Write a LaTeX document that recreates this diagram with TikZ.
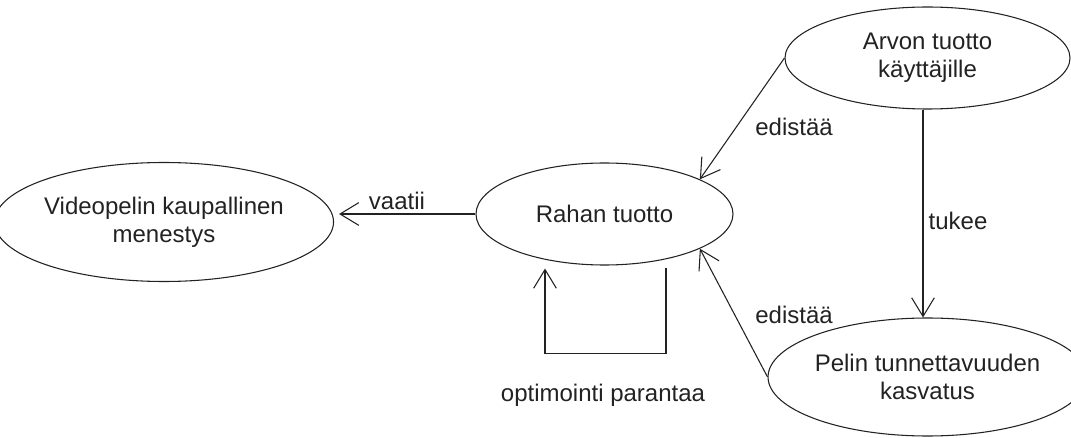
\documentclass[tikz,border=0pt]{standalone}
\usepackage{fontspec}
\setmainfont{Liberation Sans}
\usetikzlibrary{arrows.meta,calc,shapes.geometric}
\definecolor{ink}{HTML}{222222}
\tikzset{
  usecase/.style={draw=ink, ellipse, line width=0.8pt, inner sep=0pt, align=center,
    text=ink, font=\fontsize{18pt}{21pt}\selectfont},
  lbl/.style={inner sep=0pt, text=ink, font=\fontsize{18pt}{21pt}\selectfont},
  conn/.style={draw=ink, line width=0.8pt, -{Straight Barb[length=14pt,width=17pt,line width=0.8pt]}},
}
\begin{document}
\begin{tikzpicture}[x=0.75pt,y=-0.75pt]
\useasboundingbox (0,0) rectangle (1071,438);
\node[usecase, minimum width=231pt, minimum height=89.25pt] (vid) at (164,222) {Videopelin kaupallinen\\menestys};
\node[usecase, minimum width=192.75pt, minimum height=76.5pt] (rah) at (604.5,214) {Rahan tuotto};
\node[usecase, minimum width=213.75pt, minimum height=76.5pt] (arv) at (927.5,58) {Arvon tuotto\\käyttäjille};
\node[usecase, minimum width=213.75pt, minimum height=88.5pt] (pel) at (927.5,377) {Pelin tunnettavuuden\\kasvatus};

\draw[conn, shorten >=3.75pt] (rah.west) -- (rah.west -| vid.east);
\draw[conn] (arv.west) -- (rah.20);
\draw[conn] (pel.west) -- (rah.-20);
\draw[conn] ($(arv.south)+(-4.5,0)$) -- ($(pel.north)+(-4.5,0)$);
\coordinate (l1) at ($(rah.south)+(61.5,2)$);
\coordinate (l2) at ($(rah.south)+(61.5,88)$);
\coordinate (l3) at ($(rah.south)+(-59.5,88)$);
\coordinate (l4) at ($(rah.south)+(-59.5,3)$);
\draw[conn] (l1) -- (l2) -- (l3) -- (l4);

\node[lbl] (t1) at (397,201) {vaatii};
\node[lbl] (t2) at (794,127) {edistää};
\node[lbl] (t3) at (958,221) {tukee};
\node[lbl] (t4) at (794,315) {edistää};
\node[lbl] (t5) at (603,395) {optimointi parantaa};
\end{tikzpicture}
\end{document}
